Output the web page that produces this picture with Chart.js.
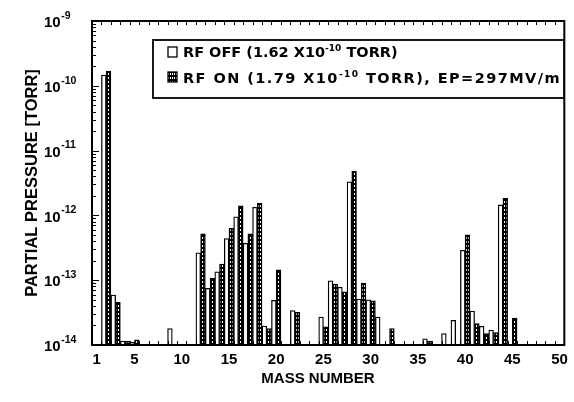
<!DOCTYPE html>
<html>
<head>
<meta charset="utf-8">
<script src="https://cdn.jsdelivr.net/npm/chart.js@4.4.1/dist/chart.umd.min.js"></script>
<style>
  html, body { margin: 0; padding: 0; background: #fff; }
  #wrap { width: 574px; height: 402px; }
</style>
</head>
<body>
<div id="wrap"><canvas id="rgaChart"></canvas></div>
<script>
// mass numbers 1..50
const masses = Array.from({ length: 50 }, (_, i) => String(i + 1));
const xTickLabels = ['1', '5', '10', '15', '20', '25', '30', '35', '40', '45', '50'];
const yExponents = [-14, -13, -12, -11, -10, -9];

// partial pressures [TORR], null = no bar
const rfOff = [
    null, 1.47e-10, 5.9e-14, 1.15e-14, 1.1e-14, null, null, null, 1.8e-14, null,
    null, 2.65e-13, 7.5e-14, 1.35e-13, 4.4e-13, 9.5e-13, 3.7e-13, 1.33e-12, 1.96e-14, 4.9e-14,
    null, 3.4e-14, null, null, 2.7e-14, 9.8e-14, 7.8e-14, 3.3e-12, 5.1e-14, 5.0e-14,
    2.7e-14, null, null, null, null, 1.25e-14, null, 1.5e-14, 2.4e-14, 2.9e-13,
    3.35e-14, 1.95e-14, 1.7e-14, 1.45e-12, null, null, null, null, null, null
];
const rfOn = [
    null, 1.68e-10, 4.6e-14, 1.15e-14, 1.2e-14, null, null, null, null, null,
    null, 5.2e-13, 1.07e-13, 1.78e-13, 6.3e-13, 1.4e-12, 5.2e-13, 1.54e-12, 1.8e-14, 1.44e-13,
    null, 3.2e-14, null, null, 1.9e-14, 8.7e-14, 6.6e-14, 4.8e-12, 9.0e-14, 4.8e-14,
    null, 1.8e-14, null, null, null, 1.15e-14, null, null, null, 5.0e-13,
    2.15e-14, 1.5e-14, 1.55e-14, 1.84e-12, 2.6e-14, null, null, null, null, null
];

Chart.defaults.font.family = '"Liberation Sans", Arial, sans-serif';
Chart.defaults.color = '#000';

function dotPattern(ctx) {
    const c = document.createElement('canvas');
    c.width = 2; c.height = 4;
    const g = c.getContext('2d');
    g.fillStyle = '#000';
    g.fillRect(0, 0, 2, 4);
    g.fillStyle = '#fff';
    g.fillRect(0, 1, 1, 2);
    return ctx.createPattern(c, 'repeat');
}

const canvas = document.getElementById('rgaChart');
const onFill = dotPattern(canvas.getContext('2d'));

// frame, inside ticks, power-of-ten labels, x title and the legend box
const decorations = {
    id: 'decorations',
    afterDraw(chart) {
        const { ctx, chartArea: a, scales: { x, y } } = chart;
        ctx.save();
        ctx.strokeStyle = '#000';
        ctx.fillStyle = '#000';

        // inside ticks on top and bottom, between mass numbers
        ctx.lineWidth = 1;
        ctx.beginPath();
        for (let i = 1; i < masses.length; i++) {
            const px = Math.round((x.getPixelForValue(i - 1) + x.getPixelForValue(i)) / 2) + 0.5;
            ctx.moveTo(px, a.top); ctx.lineTo(px, a.top + 4);
            ctx.moveTo(px, a.bottom); ctx.lineTo(px, a.bottom - 4);
        }
        // log ticks on the left
        for (let e = yExponents[0]; e < yExponents[yExponents.length - 1]; e++) {
            for (let m = 1; m <= 9; m++) {
                const py = Math.round(y.getPixelForValue(m * Math.pow(10, e))) + 0.5;
                const len = m === 1 ? 7 : 4;
                ctx.moveTo(a.left, py); ctx.lineTo(a.left + len, py);
            }
        }
        ctx.stroke();

        ctx.lineWidth = 2;
        ctx.strokeRect(a.left, a.top, a.right - a.left, a.bottom - a.top);

        // y labels 10^-n
        ctx.textBaseline = 'middle';
        ctx.textAlign = 'left';
        yExponents.forEach(e => {
            const py = y.getPixelForValue(Math.pow(10, e));
            ctx.font = 'bold 15px "Liberation Sans", Arial, sans-serif';
            ctx.fillText('10', 44, py + 2);
            const w = ctx.measureText('10').width;
            ctx.font = 'bold 10.5px "Liberation Sans", Arial, sans-serif';
            ctx.fillText('-' + Math.abs(e), 44 + w + 0.5, py - 5);
        });

        // x title
        ctx.textAlign = 'center';
        ctx.font = 'bold 15px "Liberation Sans", Arial, sans-serif';
        ctx.fillText('MASS NUMBER', 318, 379);

        // legend
        const bx = 153, by = 40, bw = 411, bh = 58;
        ctx.fillStyle = '#fff';
        ctx.fillRect(bx, by, bw, bh);
        ctx.lineWidth = 1.8;
        ctx.strokeRect(bx, by, bw, bh);

        ctx.lineWidth = 1.3;
        ctx.fillStyle = '#fff';
        ctx.fillRect(168, 47, 9, 10);
        ctx.strokeRect(168, 47, 9, 10);
        ctx.fillStyle = onFill;
        ctx.fillRect(168, 72, 9, 10);
        ctx.strokeRect(168, 72, 9, 10);

        ctx.fillStyle = '#000';
        ctx.textAlign = 'left';
        ctx.textBaseline = 'alphabetic';
        const rows = [
            ['RF OFF (1.62 X10', '-10', ' TORR)', 57, 393],
            ['RF ON (1.79 X10', '-10', ' TORR), EP=297MV/m', 83, 561]
        ];
        const big = 'bold 14.5px "DejaVu Sans", sans-serif';
        const small = 'bold 9px "DejaVu Sans", sans-serif';
        rows.forEach(([pre, sup, post, base, endX]) => {
            // spread the letters so the row ends where it does in the original
            ctx.letterSpacing = '0px';
            ctx.font = big;
            let natural = ctx.measureText(pre).width + ctx.measureText(post).width;
            ctx.font = small;
            natural += ctx.measureText(sup).width;
            const nChars = pre.length + sup.length + post.length;
            const spacing = Math.max(0, (endX - 183 - natural) / nChars);
            ctx.letterSpacing = spacing.toFixed(2) + 'px';

            let tx = 183;
            ctx.font = big;
            ctx.fillText(pre, tx, base);
            tx += ctx.measureText(pre).width;
            ctx.font = small;
            ctx.fillText(sup, tx, base - 6);
            tx += ctx.measureText(sup).width;
            ctx.font = big;
            ctx.fillText(post, tx, base);
        });
        ctx.letterSpacing = '0px';
        ctx.restore();
    }
};

new Chart(canvas, {
    type: 'bar',
    data: {
        labels: masses,
        datasets: [{
            label: 'RF OFF (1.62 X10-10 TORR)',
            data: rfOff,
            backgroundColor: '#fff',
            borderColor: '#000',
            borderWidth: 1.3
        }, {
            label: 'RF ON (1.79 X10-10 TORR), EP=297MV/m',
            data: rfOn,
            backgroundColor: onFill,
            borderColor: '#000',
            borderWidth: 1.5
        }]
    },
    options: {
        responsive: true,
        maintainAspectRatio: false,
        animation: false,
        layout: { padding: { top: 21, right: 7, left: 0, bottom: 0 } },
        datasets: {
            bar: { barPercentage: 1, categoryPercentage: 1 }
        },
        plugins: {
            legend: { display: false },
            tooltip: { enabled: false }
        },
        scales: {
            x: {
                grid: { display: false, drawTicks: false },
                border: { display: false },
                ticks: {
                    autoSkip: false,
                    maxRotation: 0,
                    padding: 6,
                    font: { size: 15, weight: 'bold' },
                    callback(value) {
                        const lab = this.getLabelForValue(value);
                        return xTickLabels.includes(lab) ? lab : '';
                    }
                },
                afterFit(scale) { scale.height = 57; }
            },
            y: {
                type: 'logarithmic',
                min: 1e-14,
                max: 1e-9,
                grid: { display: false, drawTicks: false },
                border: { display: false },
                ticks: { display: false },
                title: {
                    display: true,
                    text: 'PARTIAL PRESSURE [TORR]',
                    font: { size: 16.5, weight: 'bold' },
                    padding: { top: 23, bottom: 0 }
                },
                afterFit(scale) { scale.width = 92; }
            }
        }
    },
    plugins: [decorations]
});
</script>
</body>
</html>
